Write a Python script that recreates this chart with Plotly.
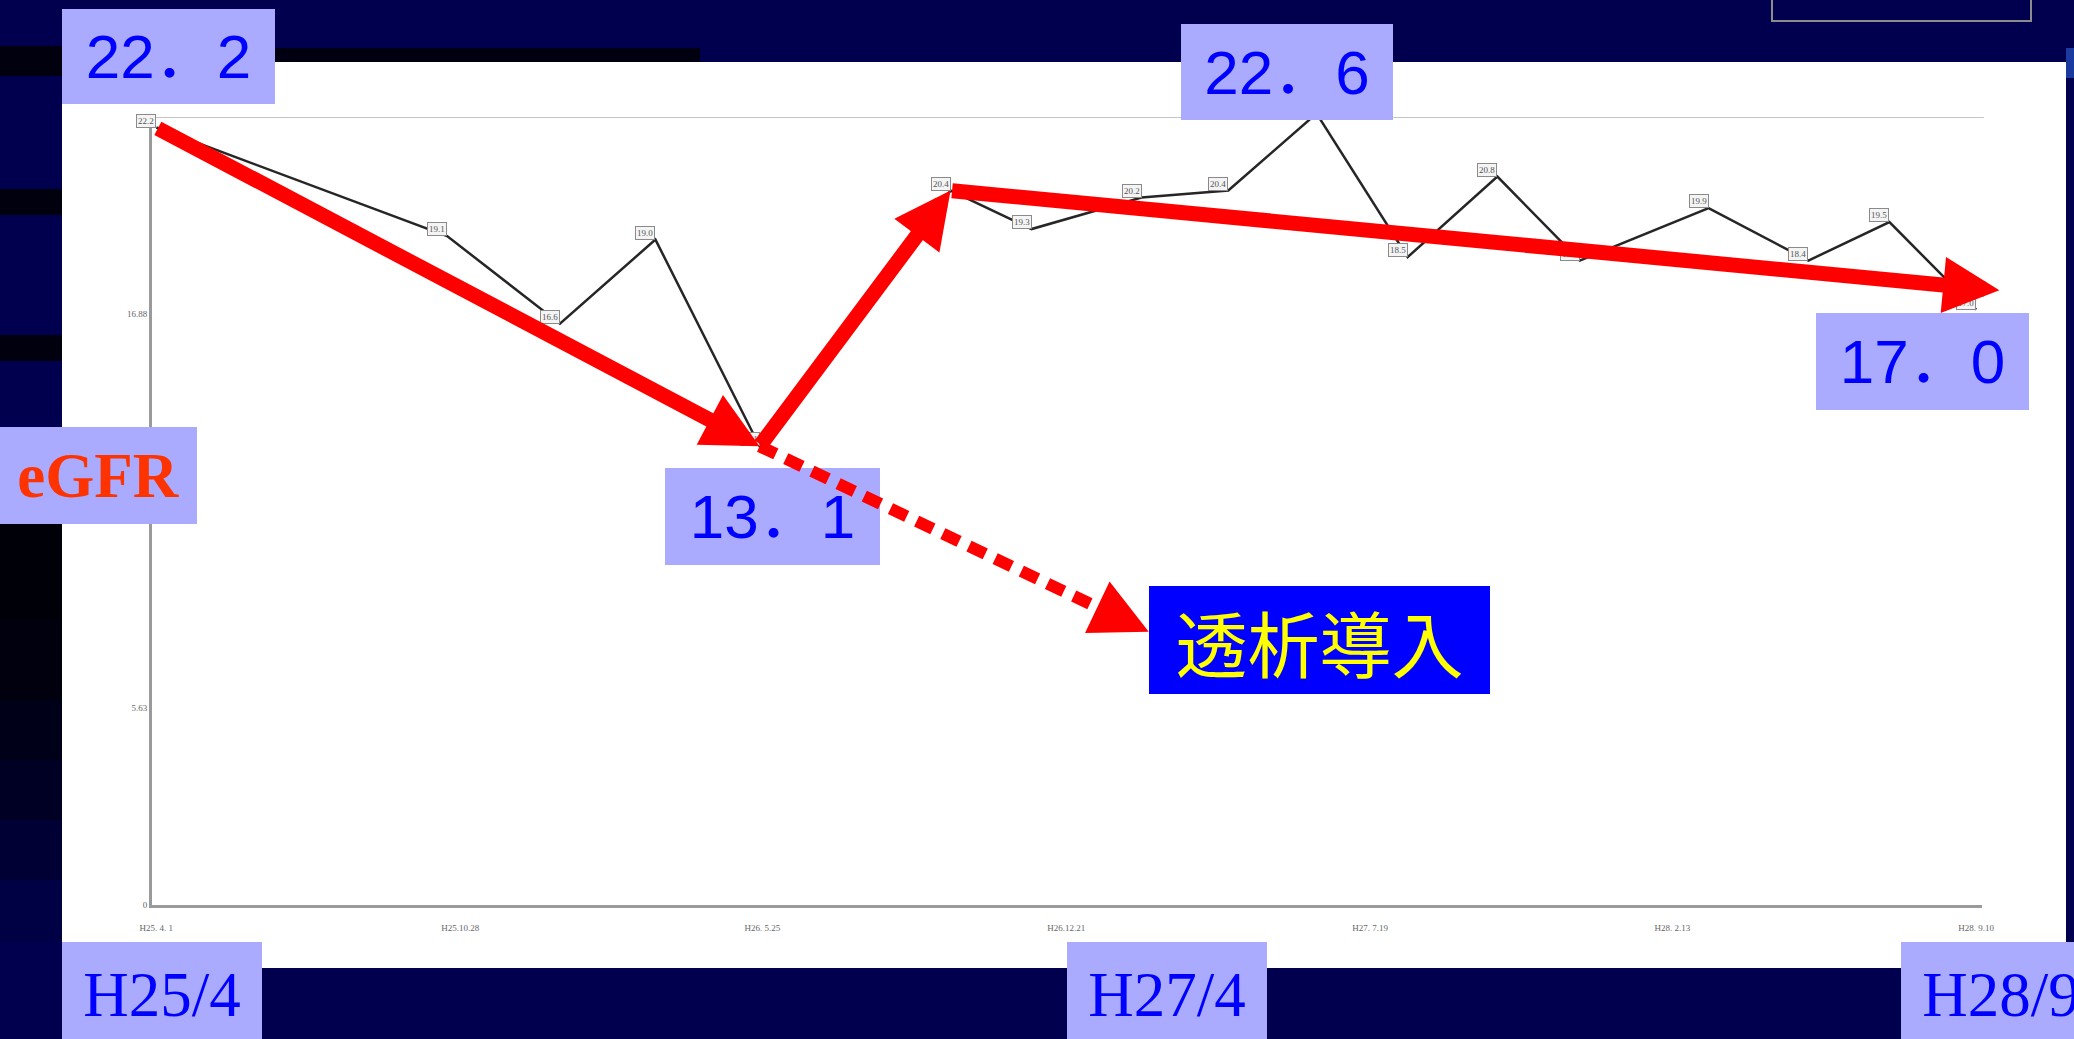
import plotly.graph_objects as go
import pandas as pd

# ---------------- data ----------------
dates = ["2013-04-01", "2013-10-19", "2014-01-05", "2014-03-12", "2014-05-23",
         "2014-10-02", "2014-11-27", "2015-02-11", "2015-04-12", "2015-06-12",
         "2015-08-14", "2015-10-15", "2015-12-11", "2016-03-09", "2016-05-17",
         "2016-07-12", "2016-09-10"]
egfr = [22.2, 19.1, 16.6, 19.0, 13.1, 20.4, 19.3, 20.2, 20.4, 22.6,
        18.5, 20.8, 18.4, 19.9, 18.4, 19.5, 17.0]

x_tick_vals = ["2013-04-01", "2013-10-28", "2014-05-25", "2014-12-21",
               "2015-07-19", "2016-02-13", "2016-09-10"]
x_tick_text = ["H25. 4. 1", "H25.10.28", "H26. 5.25", "H26.12.21",
               "H27. 7.19", "H28. 2.13", "H28. 9.10"]
y_tick_vals = [0, 5.63, 16.88]
y_tick_text = ["0", "5.63", "16.88"]
y_top = 22.5

period_labels = ["H25/4", "H27/4", "H28/9"]
axis_label = "eGFR"
event_label = "透析導入"

i_start, i_low, i_rebound, i_peak, i_last = 0, 4, 5, 9, 16
trend_end_date, trend_end_value = "2016-09-26", 17.55
dialysis_date, dialysis_value = "2015-02-16", 7.8

# ---------------- layout helpers (pixel -> paper) ----------------
W, H = 2074, 1039
PL, PR, PT, PB = 152, 1982, 117, 905


def px(x):
    return (x - PL) / (PR - PL)


def py(y):
    return (PB - y) / (PB - PT)


def fmt(v):
    return f"{v:.1f}".replace(".", "．")


NAVY = "#00004e"
BOXBG = "#aaaaff"
NUMFONT = dict(family="Liberation Sans, Noto Sans CJK JP", size=62, color="#0000ff")
HFONT = dict(family="Liberation Serif", size=63, color="#0000ff")

fig = go.Figure()
fig.add_trace(go.Scatter(x=dates, y=egfr, mode="lines",
                         line=dict(color="#262626", width=2.5),
                         hoverinfo="skip", showlegend=False))

shapes = []
# white chart panel
shapes.append(dict(type="rect", xref="paper", yref="paper", layer="below",
                   x0=px(62), x1=px(2066), y0=py(62), y1=py(968),
                   fillcolor="white", line=dict(width=0)))
# left column shading
left_bands = [(46, 76, "#00000e"), (189, 215, "#00000e"), (335, 361, "#00000e"),
              (524, 620, "#000008"), (620, 700, "#00000e"), (700, 760, "#000018"),
              (760, 820, "#000025"), (820, 880, "#000035"), (880, 942, "#000045")]
for y0, y1, c in left_bands:
    shapes.append(dict(type="rect", xref="paper", yref="paper", layer="below",
                       x0=px(0), x1=px(62), y0=py(y0), y1=py(y1),
                       fillcolor=c, line=dict(width=0)))
shapes.append(dict(type="rect", xref="paper", yref="paper", layer="below",
                   x0=px(62), x1=px(700), y0=py(48), y1=py(62),
                   fillcolor="#000010", line=dict(width=0)))
shapes.append(dict(type="rect", xref="paper", yref="paper", layer="below",
                   x0=px(2066), x1=px(2074), y0=py(48), y1=py(78),
                   fillcolor="#1a3aa0", line=dict(width=0)))
# top-right outlined box
shapes.append(dict(type="rect", xref="paper", yref="paper", layer="below",
                   x0=px(1772), x1=px(2031), y0=py(-5), y1=py(21),
                   fillcolor="rgba(0,0,0,0)", line=dict(color="#8c8c8c", width=2)))
# top horizontal grid line
shapes.append(dict(type="line", xref="paper", yref="y", layer="below",
                   x0=0, x1=1.001, y0=y_top, y1=y_top,
                   line=dict(color="#c4c4c4", width=2)))
# 13.1 box background (under the dotted arrow)
shapes.append(dict(type="rect", xref="paper", yref="paper", layer="above",
                   x0=px(665), x1=px(880), y0=py(468), y1=py(565),
                   fillcolor=BOXBG, line=dict(width=0)))
# dotted arrow shaft toward 透析導入
tip = pd.Timestamp(dialysis_date)
low = pd.Timestamp(dates[i_low])
day_px = (PR - PL) / (pd.Timestamp("2016-09-14") - pd.Timestamp("2013-03-29")).days
unit_px = (PB - PT) / y_top
dxp = (tip - low).days * day_px
dyp = (egfr[i_low] - dialysis_value) * unit_px
L = (dxp ** 2 + dyp ** 2) ** 0.5
back = 28
shaft_end_x = tip - pd.Timedelta(days=back * dxp / L / day_px)
shaft_end_y = dialysis_value + back * dyp / L / unit_px
shapes.append(dict(type="line", xref="x", yref="y", layer="above",
                   x0=dates[i_low], y0=egfr[i_low],
                   x1=shaft_end_x.strftime("%Y-%m-%d %H:%M"), y1=shaft_end_y,
                   line=dict(color="#ff0000", width=12, dash="18px,11px")))

annotations = []
# small data labels
for d, v in zip(dates, egfr):
    annotations.append(dict(x=d, y=v, xref="x", yref="y", text=f"{v:.1f}",
                            showarrow=False, xanchor="right", yanchor="bottom",
                            font=dict(family="Liberation Serif", size=9, color="#555"),
                            bordercolor="#8a8a8a", borderwidth=1, borderpad=1,
                            bgcolor="#f4f4f4"))


def red_arrow(x, y, ax, ay):
    return dict(x=x, y=y, ax=ax, ay=ay, xref="x", yref="y", axref="x", ayref="y",
                text="", showarrow=True, arrowhead=2, arrowsize=0.75,
                arrowwidth=15, arrowcolor="#ff0000")


annotations.append(red_arrow(dates[i_low], egfr[i_low], dates[i_start], egfr[i_start]))
annotations.append(red_arrow(dates[i_rebound], egfr[i_rebound], dates[i_low], egfr[i_low]))
annotations.append(red_arrow(trend_end_date, trend_end_value, dates[i_rebound], egfr[i_rebound]))
# dotted arrow head
annotations.append(dict(x=dialysis_date, y=dialysis_value, xref="x", yref="y",
                        ax=-40 * dxp / L, ay=-40 * dyp / L, text="", showarrow=True,
                        arrowhead=2, arrowsize=0.95, arrowwidth=12, arrowcolor="#ff0000"))


def box(text, x0, y0, x1, y1, font, bg):
    d = dict(xref="paper", yref="paper", x=px(x0), y=py(y0), xanchor="left",
             yanchor="top", width=x1 - x0, height=y1 - y0, text=text,
             showarrow=False, borderpad=0, borderwidth=0, font=font,
             align="center", valign="middle")
    if bg:
        d["bgcolor"] = bg
    return d


annotations.append(box(fmt(egfr[i_start]), 62, 9, 275, 104, NUMFONT, BOXBG))
annotations.append(box(fmt(egfr[i_peak]), 1181, 24, 1393, 120, NUMFONT, BOXBG))
annotations.append(box(fmt(egfr[i_low]), 665, 468, 880, 565, NUMFONT, None))
annotations.append(box(fmt(egfr[i_last]), 1816, 313, 2029, 410, NUMFONT, BOXBG))
annotations.append(box(f"<b>{axis_label}</b>", 0, 427, 197, 524,
                       dict(family="Liberation Serif", size=63, color="#ff3300"), BOXBG))
annotations.append(box(event_label, 1149, 586, 1490, 694,
                       dict(family="Noto Sans CJK JP", size=72, color="#ffff00"), "#0000ff"))
annotations.append(box(period_labels[0], 62, 942, 262, 1048, HFONT, BOXBG))
annotations.append(box(period_labels[1], 1067, 942, 1267, 1048, HFONT, BOXBG))
annotations.append(box(period_labels[2], 1901, 942, 2101, 1048, HFONT, BOXBG))

fig.update_layout(
    width=W, height=H,
    margin=dict(l=PL, r=W - PR, t=PT, b=H - PB, pad=0, autoexpand=False),
    paper_bgcolor=NAVY, plot_bgcolor="white",
    showlegend=False,
    shapes=shapes, annotations=annotations,
    xaxis=dict(type="date", range=["2013-03-29", "2016-09-14"],
               showline=True, linecolor="#9a9a9a", linewidth=3,
               showgrid=False, zeroline=False, ticks="",
               tickvals=x_tick_vals, ticktext=x_tick_text, ticklabelstandoff=12,
               tickfont=dict(family="Liberation Serif", size=9, color="#666")),
    yaxis=dict(range=[0, y_top], showline=True, linecolor="#9a9a9a", linewidth=3,
               showgrid=False, zeroline=False, ticks="",
               tickvals=y_tick_vals, ticktext=y_tick_text,
               tickfont=dict(family="Liberation Serif", size=9, color="#666")),
)

fig.write_html("out.html", config=dict(displayModeBar=False))
